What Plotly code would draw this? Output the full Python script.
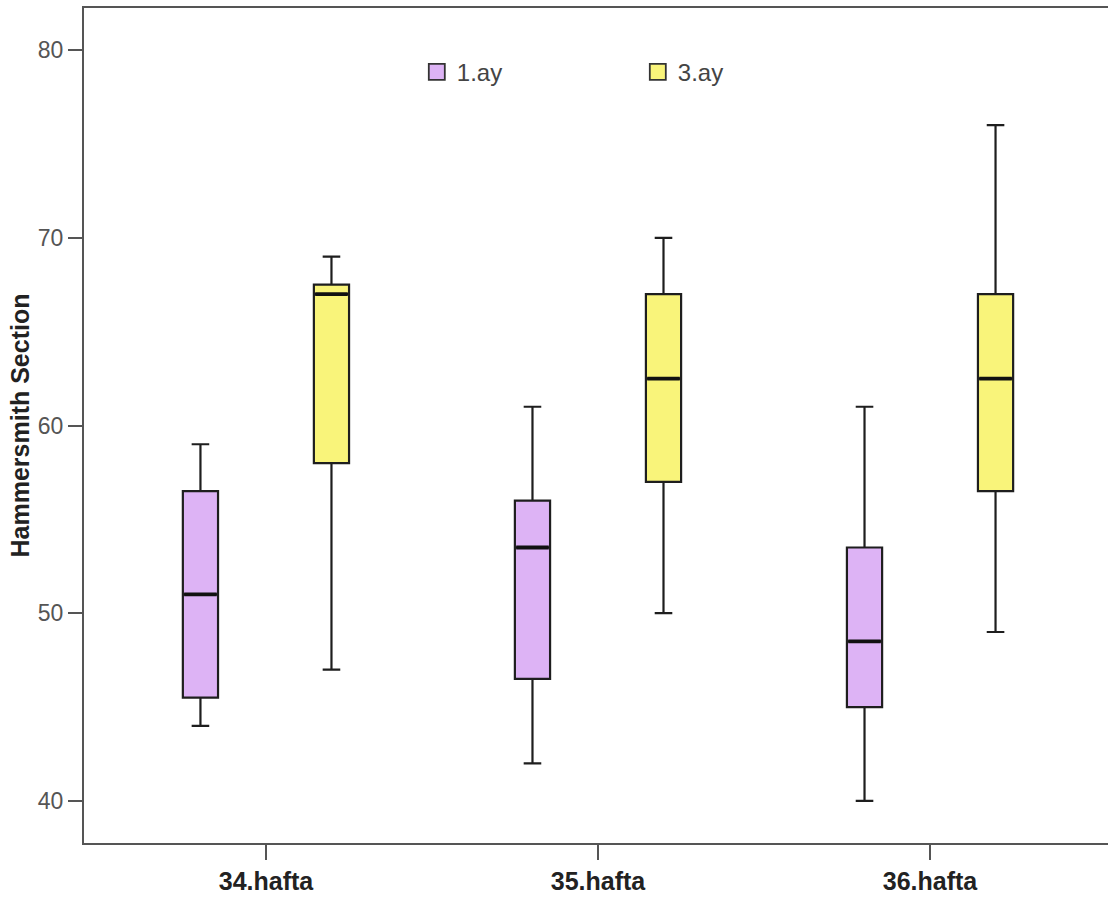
import plotly.graph_objects as go

# Week groups along the x axis
weeks = ["34.hafta", "35.hafta", "36.hafta"]

# Five-number summaries per month, one value per week
ay1_low = [44.0, 42.0, 40.0]
ay1_q1 = [45.5, 46.5, 45.0]
ay1_median = [51.0, 53.5, 48.5]
ay1_q3 = [56.5, 56.0, 53.5]
ay1_high = [59.0, 61.0, 61.0]

ay3_low = [47.0, 50.0, 49.0]
ay3_q1 = [58.0, 57.0, 56.5]
ay3_median = [67.0, 62.5, 62.5]
ay3_q3 = [67.5, 67.0, 67.0]
ay3_high = [69.0, 70.0, 76.0]

y_ticks = [40, 50, 60, 70, 80]

series = [
    ("1.ay", -0.1973, "#DDB3F5", ay1_low, ay1_q1, ay1_median, ay1_q3, ay1_high),
    ("3.ay", 0.1973, "#F9F47A", ay3_low, ay3_q1, ay3_median, ay3_q3, ay3_high),
]
box_w = 0.106
FONT = "Liberation Sans, Arial, sans-serif"

fig = go.Figure()
for name, off, color, lo, q1, med, q3, hi in series:
    xs = [i + off for i in range(len(weeks))]
    fig.add_trace(go.Box(
        name=name, x=xs, lowerfence=lo, q1=q1, median=med, q3=q3, upperfence=hi,
        width=box_w, whiskerwidth=0.5, fillcolor=color,
        line=dict(color="#1e1e1e", width=2.2), boxpoints=False,
        hoverinfo="skip", showlegend=False,
    ))
    # thicker median bars on top of each box
    mx, my = [], []
    for x, m in zip(xs, med):
        mx += [x - box_w / 2 + 0.004, x + box_w / 2 - 0.004, None]
        my += [m, m, None]
    fig.add_trace(go.Scatter(x=mx, y=my, mode="lines", showlegend=False,
                             line=dict(color="#111", width=3.8), hoverinfo="skip"))
    # legend entry with a square swatch
    fig.add_trace(go.Scatter(
        x=[None], y=[None], mode="markers", name=name,
        marker=dict(symbol="square", size=20, color=color,
                    line=dict(color="#333", width=1.8)),
    ))

fig.update_layout(
    width=1108, height=897,
    margin=dict(l=84, r=0, t=8, b=54),
    paper_bgcolor="white", plot_bgcolor="white",
    font=dict(family=FONT, color="#222"),
    legend=dict(orientation="h", x=0.325, y=0.923, xanchor="left", yanchor="middle",
                entrywidth=176, entrywidthmode="pixels", itemwidth=30,
                font=dict(size=24, color="#444"), bgcolor="rgba(0,0,0,0)"),
    xaxis=dict(
        range=[-0.548, 2.536], tickmode="array",
        tickvals=list(range(len(weeks))), ticktext=weeks,
        ticks="outside", ticklen=15, tickwidth=2, tickcolor="#555",
        showline=True, linecolor="#555", linewidth=2, mirror=True,
        showgrid=False, zeroline=False,
        tickfont=dict(size=25, color="#222", family=FONT, weight="bold"),
    ),
    yaxis=dict(
        range=[37.76, 82.24], tickmode="array", tickvals=y_ticks,
        ticks="outside", ticklen=14, tickwidth=2, tickcolor="#555",
        showline=True, linecolor="#555", linewidth=2,
        showgrid=False, zeroline=False,
        tickfont=dict(size=23, color="#555"),
        title=dict(text="<b>Hammersmith Section</b>", font=dict(size=25, color="#222"), standoff=1),
    ),
)

fig.write_html("out.html")
